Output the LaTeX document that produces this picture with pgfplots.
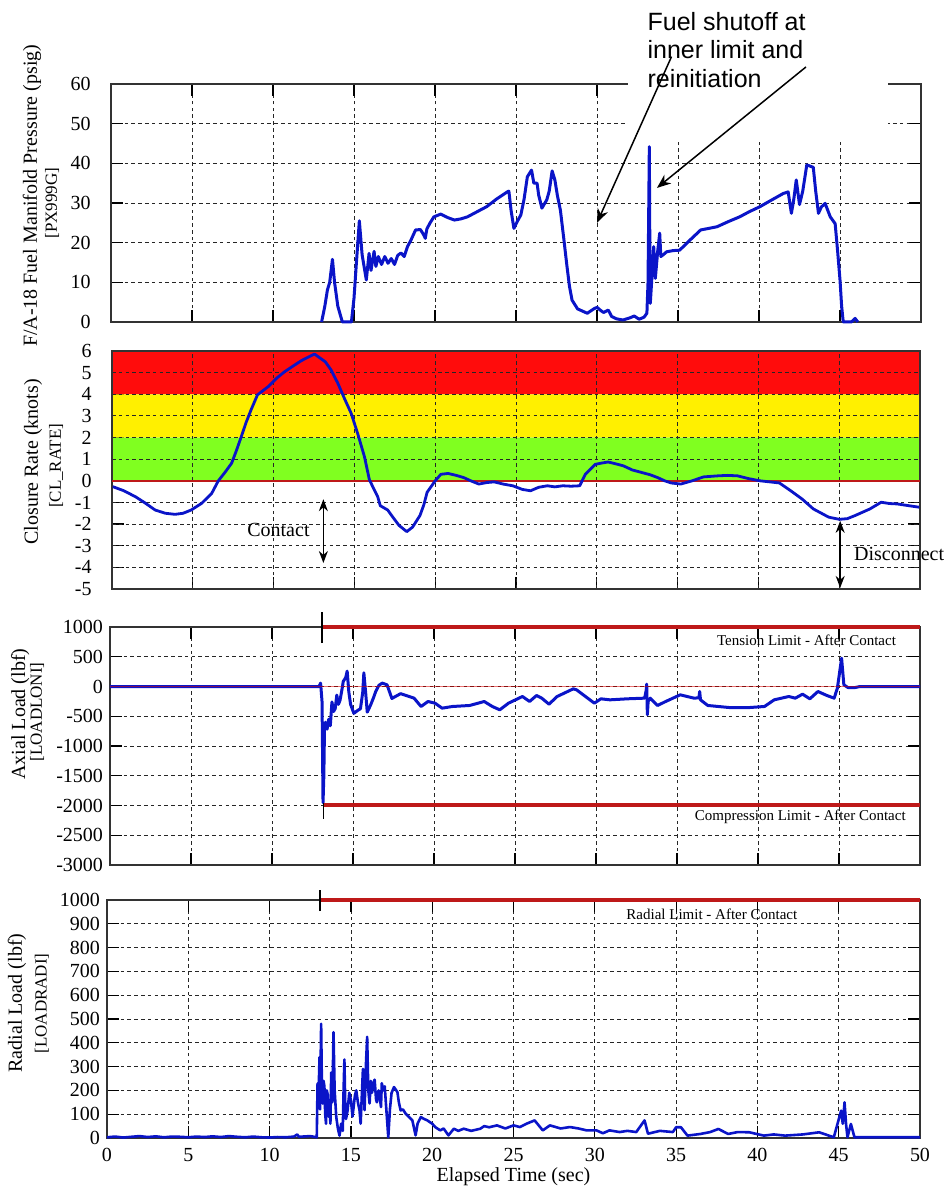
\documentclass[border=0pt]{standalone}
\usepackage{fontspec}
\setmainfont{Liberation Serif}
\newfontfamily\arial{Liberation Sans}
\usepackage{pgfplots}
\pgfplotsset{compat=1.18}
\usetikzlibrary{arrows.meta}
\definecolor{dblue}{RGB}{10,20,200}
\definecolor{lred}{RGB}{190,25,25}
\definecolor{bred}{RGB}{255,12,12}
\definecolor{byel}{RGB}{255,240,0}
\definecolor{bgreen}{RGB}{128,255,32}
\pgfplotsset{
  gridsty/.style={black!85, line width=0.4pt, dash pattern=on 1.8pt off 1.6pt},
  panel/.style={
    scale only axis, height=119pt,
    anchor=south west,
    xmin=0, xmax=50, xtick={0,5,...,50},
    grid=major,
    major grid style={gridsty},
    axis line style={black!80, line width=0.6pt},
    major tick length=6pt,
    tick style={black, line width=0.6pt},
    tick align=inside,
    /pgf/number format/assume math mode=true,
    /pgf/number format/1000 sep={},
    scaled y ticks=false,
    ticklabel style={font=\fontsize{10}{12}\selectfont},
    clip=false,
  },
  every axis plot/.append style={line join=round},
}
\newcommand{\lblA}{\fontsize{10}{12}\selectfont}
\newcommand{\lblB}{\fontsize{8.5}{10}\selectfont}
\begin{document}
\begin{tikzpicture}
\path[use as bounding box] (0,0) rectangle (473.5pt,596.5pt);

% ---------------- Panel 1 ----------------
\begin{axis}[panel, at={(55.5pt,435.5pt)}, width=405pt,
  ymin=0, ymax=60, ytick={0,10,...,60}, xticklabels={},
  yticklabel style={xshift=-6.7pt}]
\addplot[dblue, line width=1.5pt] coordinates {
(13.0,0) (13.2,4) (13.36,8.1) (13.5,10) (13.67,15.8) (13.8,10) (14.0,4) (14.28,0) (14.84,0) (15.0,6) (15.15,15) (15.33,25.5) (15.5,17) (15.76,10.6) (15.93,17.3) (16.05,13) (16.24,17.8) (16.35,14) (16.5,16.5) (16.7,14.5) (16.9,16.5) (17.1,14.8) (17.3,16) (17.5,14.5) (17.7,16.8) (17.9,17.4) (18.1,16.5) (18.3,19) (18.5,20.5) (18.8,23.2) (19.1,23.3) (19.3,22) (19.4,21.1) (19.5,23.5) (19.7,25) (19.93,26.5) (20.35,27.2) (20.8,26.3) (21.2,25.7) (21.6,26) (22.0,26.5) (22.6,27.8) (23.2,29.1) (23.8,31) (24.46,32.8) (24.56,33) (24.7,28) (24.87,23.6) (25.1,25.5) (25.3,27) (25.5,31) (25.7,36.6) (25.96,38.3) (26.1,35) (26.3,35) (26.4,32) (26.6,28.7) (26.9,30.8) (27.05,33) (27.23,38.1) (27.4,35.8) (27.55,32) (27.74,28.2) (27.95,21) (28.15,13.9) (28.3,9) (28.46,5.5) (28.8,3.3) (29.4,2.2) (29.8,3.3) (30.0,3.7) (30.2,3) (30.4,2.4) (30.7,3) (30.9,1.4) (31.2,0.8) (31.6,0.5) (32.0,1) (32.3,1.5) (32.6,0.7) (32.9,1.2) (33.08,2.2) (33.15,10) (33.23,44.2) (33.26,20) (33.29,4.7) (33.4,12) (33.5,19) (33.6,11) (33.75,18) (33.87,22.4) (33.94,16.5) (34.1,17) (34.3,17.7) (34.7,18) (35.1,18.1) (35.7,20.5) (36.4,23.2) (37.4,24) (38.1,25.3) (38.8,26.5) (39.4,27.8) (40.07,29.1) (40.8,30.8) (41.5,32.4) (41.8,32.8) (41.9,30) (42.0,27.4) (42.15,31) (42.3,35.8) (42.5,29.6) (42.7,33) (42.95,39.6) (43.35,39) (43.5,33) (43.67,27.4) (43.85,29) (44.08,29.9) (44.4,26.5) (44.7,24.8) (44.85,18) (45.0,10.6) (45.1,4) (45.2,0) (45.7,0) (45.93,0.9) (46.1,0)
};
\coordinate (wbA) at (axis cs:31.9,45.3);
\coordinate (wbB) at (axis cs:47.96,63);
\coordinate (txt) at (axis cs:33.1,78.2);
\coordinate (a1s) at (axis cs:34.6,66.9);
\coordinate (a1e) at (axis cs:30.0,25.0);
\coordinate (a2s) at (axis cs:42.9,64.3);
\coordinate (a2e) at (axis cs:33.7,33.8);
\node[rotate=90, font=\lblA] at (axis description cs:-0.0975,0.53) {F/A-18 Fuel Manifold Pressure (psig)};
\node[rotate=90, font=\lblB] at (axis description cs:-0.0728,0.5) {[PX999G]};
\end{axis}
\fill[white] (wbA) rectangle (wbB);
\node[anchor=north west, inner sep=0pt, align=left, font=\arial\fontsize{12.5}{14.3}\selectfont] at (txt) {Fuel shutoff at\\inner limit and\\reinitiation};
\draw[line width=0.75pt, -{Stealth[length=7pt,width=5.5pt]}] (a1s) -- (a1e);
\draw[line width=0.75pt, -{Stealth[length=7pt,width=5.5pt]}] (a2s) -- (a2e);

% ---------------- Panel 2 ----------------
\begin{axis}[panel, at={(56pt,302pt)}, width=404pt, grid=none,
  ymin=-5, ymax=6, ytick={-5,-4,...,6}, xticklabels={},
  yticklabel style={xshift=-6.7pt}]
\addplot[draw=none, fill=bred] coordinates {(0,4) (50,4) (50,6) (0,6) (0,4)};
\addplot[draw=none, fill=byel] coordinates {(0,2) (50,2) (50,4) (0,4) (0,2)};
\addplot[draw=none, fill=bgreen] coordinates {(0,0) (50,0) (50,2) (0,2) (0,0)};
\pgfplotsinvokeforeach{5,10,15,20,25,30,35,40,45}{\addplot[gridsty] coordinates {(#1,-5) (#1,6)};}
\pgfplotsinvokeforeach{-4,-3,-2,-1,1,2,3,4,5}{\addplot[gridsty] coordinates {(0,#1) (50,#1)};}
\addplot[black!80, line width=0.6pt] coordinates {(0,-5) (50,-5) (50,6) (0,6) (0,-5)};
\addplot[lred, line width=0.9pt] coordinates {(0,0) (50,0)};
\addplot[dblue, line width=1.4pt] coordinates {
(0.05,-0.27) (0.7,-0.45) (1.44,-0.73) (2.0,-1.0) (2.67,-1.35) (3.3,-1.5) (3.9,-1.55) (4.4,-1.5) (4.9,-1.35) (5.55,-1.04) (6.17,-0.58) (6.58,0.0) (7.0,0.4) (7.4,0.81) (7.7,1.4) (8.0,2.04) (8.3,2.7) (8.6,3.27) (9.0,3.97) (9.66,4.35) (10.2,4.75) (10.68,5.04) (11.2,5.3) (11.71,5.55) (12.1,5.7) (12.53,5.86) (12.9,5.66) (13.2,5.5) (13.56,5.12) (13.98,4.5) (14.38,3.81) (14.8,3.12) (15.2,2.19) (15.62,1.12) (15.93,0.04) (16.44,-0.73) (16.6,-1.15) (17.06,-1.35) (17.3,-1.6) (17.76,-2.06) (18.24,-2.35) (18.6,-2.14) (19.06,-1.6) (19.3,-1.1) (19.5,-0.53) (20.0,0) (20.35,0.3) (20.8,0.34) (21.3,0.25) (21.76,0.15) (22.2,0) (22.7,-0.15) (23.2,-0.08) (23.65,-0.05) (24.2,-0.15) (24.8,-0.23) (25.4,-0.4) (25.9,-0.46) (26.4,-0.3) (26.94,-0.23) (27.4,-0.28) (27.9,-0.23) (28.4,-0.25) (28.94,-0.23) (29.3,0.31) (29.9,0.76) (30.3,0.82) (30.7,0.87) (31.2,0.78) (31.65,0.69) (32.2,0.5) (32.8,0.38) (33.3,0.28) (33.76,0.15) (34.2,0.0) (34.6,-0.1) (35.2,-0.15) (35.9,0) (36.6,0.18) (37.5,0.23) (38.1,0.25) (38.7,0.23) (39.4,0.1) (40.1,0) (40.7,-0.05) (41.3,-0.1) (42.0,-0.46) (42.7,-0.84) (43.4,-1.3) (44.35,-1.68) (45.0,-1.78) (45.5,-1.75) (46.0,-1.6) (46.9,-1.3) (47.6,-0.99) (48.1,-1.05) (48.6,-1.07) (49.3,-1.15) (49.95,-1.22)
};
\node[font=\lblA] at (axis cs:10.3,-2.29) {Contact};
\draw[line width=0.7pt, {Stealth[length=6pt,width=4.5pt]}-{Stealth[length=6pt,width=4.5pt]}] (axis cs:13.08,-0.85) -- (axis cs:13.08,-3.8);
\node[font=\lblA, anchor=west, inner sep=0pt] at (axis cs:45.9,-3.4) {Disconnect};
\draw[line width=0.7pt, {Stealth[length=6pt,width=4.5pt]}-{Stealth[length=6pt,width=4.5pt]}] (axis cs:45.06,-1.85) -- (axis cs:45.06,-4.95);
\node[rotate=90, font=\lblA] at (axis description cs:-0.0978,0.534) {Closure Rate (knots)};
\node[rotate=90, font=\lblB] at (axis description cs:-0.0693,0.517) {[CL\_RATE]};
\end{axis}

% ---------------- Panel 3 ----------------
\begin{axis}[panel, at={(55pt,164pt)}, width=405pt,
  ymin=-3000, ymax=1000, ytick={-3000,-2500,...,1000}, xticklabels={}]
\addplot[dblue, line width=1.5pt] coordinates {
(0,0) (12.9,0) (13.0,57) (13.09,-259) (13.15,-1950) (13.2,-1500) (13.24,-718) (13.3,-600) (13.4,-718) (13.5,-550) (13.6,-660) (13.7,-259) (13.8,-420) (13.9,-374) (14.0,-144) (14.1,-300) (14.2,-230) (14.3,-80) (14.4,86) (14.55,150) (14.64,259) (14.74,-86) (14.85,-300) (14.95,-374) (15.05,-450) (15.15,-431) (15.3,-400) (15.46,-374) (15.6,-100) (15.67,230) (15.78,-100) (15.88,-431) (16.08,-316) (16.25,-200) (16.4,-86) (16.6,20) (16.8,57) (17.1,29) (17.4,-201) (17.94,-120) (18.77,-196) (19.2,-336) (19.63,-252) (20.06,-280) (20.5,-364) (21.14,-336) (22.2,-319) (23.1,-252) (23.6,-336) (24.06,-392) (24.6,-280) (25.46,-168) (25.9,-252) (26.33,-151) (26.65,-196) (27.1,-297) (27.6,-168) (28.6,-39) (28.8,-56) (29.35,-168) (29.9,-280) (30.3,-207) (30.86,-224) (31.94,-207) (33.0,-196) (33.1,-60) (33.13,40) (33.17,-476) (33.22,-250) (33.35,-196) (33.8,-319) (34.3,-252) (35.2,-140) (36.05,-196) (36.35,-190) (36.4,-84) (36.45,-224) (36.9,-319) (38.2,-353) (39.5,-353) (40.4,-336) (41.0,-224) (41.9,-168) (42.3,-196) (42.75,-129) (43.2,-207) (43.7,-84) (44.25,-151) (44.7,-196) (44.9,-28) (45.16,476) (45.3,28) (45.55,-17) (46.0,-17) (46.3,0) (50,0)
};
\addplot[red!85!black, opacity=0.55, line width=0.7pt] coordinates {(0,0) (50,0)};
\addplot[lred, line width=2pt] coordinates {(13.1,1000) (50,1000)};
\addplot[lred, line width=2pt] coordinates {(13.2,-2000) (50,-2000)};
\draw[black, line width=0.6pt] (axis cs:13.09,730) -- (axis cs:13.09,1250);
\draw[black, line width=0.5pt] (axis cs:13.2,-1950) -- (axis cs:13.2,-2220);
\node[anchor=east, font=\fontsize{7.5}{9}\selectfont] at (axis cs:48.95,776) {Tension Limit - After Contact};
\node[anchor=east, font=\fontsize{7.5}{9}\selectfont] at (axis cs:49.55,-2196) {Compression Limit - After Contact};
\node[rotate=90, font=\lblA] at (axis description cs:-0.111,0.634) {Axial Load (lbf)};
\node[rotate=90, font=\lblB] at (axis description cs:-0.090,0.643) {[LOADLONI]};
\end{axis}

% ---------------- Panel 4 ----------------
\begin{axis}[panel, at={(53.5pt,27.5pt)}, width=406.5pt,
  ymin=0, ymax=1000, ytick={0,100,...,1000},
  xticklabel style={yshift=-1.5pt},
  xlabel={Elapsed Time (sec)},
  xlabel style={at={(axis description cs:0.5,0)}, anchor=center, yshift=-19.5pt, font=\lblA}]
\addplot[dblue, line width=1.3pt] coordinates {
(0,3) (0.5,6) (1,2) (1.5,5) (2,8) (2.5,4) (3,7) (3.5,3) (4,6) (4.5,5) (5,3) (5.5,6) (6,4) (6.5,7) (7,4) (7.5,8) (8,5) (8.5,3) (9,6) (9.5,3) (10,2) (10.5,4) (11,3) (11.5,6) (11.7,15) (11.8,5) (12.5,8) (12.9,3) (12.95,230) (13.0,150) (13.04,260) (13.07,340) (13.1,120) (13.17,480) (13.22,200) (13.27,145) (13.32,240) (13.37,217) (13.42,100) (13.47,60) (13.52,200) (13.58,180) (13.63,90) (13.68,145) (13.74,60) (13.79,275) (13.86,150) (13.93,445) (14.0,200) (14.1,88) (14.2,40) (14.3,10) (14.4,60) (14.5,30) (14.55,200) (14.6,330) (14.65,150) (14.7,80) (14.8,117) (14.9,190) (15.0,160) (15.1,90) (15.15,120) (15.25,180) (15.33,200) (15.43,150) (15.53,117) (15.6,60) (15.74,290) (15.8,200) (15.84,117) (15.92,300) (16.0,425) (16.07,200) (16.15,145) (16.22,240) (16.3,190) (16.38,230) (16.46,245) (16.55,160) (16.6,150) (16.7,200) (16.77,174) (16.85,130) (16.9,230) (17.0,200) (17.08,217) (17.2,100) (17.3,3) (17.4,120) (17.5,189) (17.65,214) (17.86,193) (17.95,150) (18.06,116) (18.2,120) (18.37,102) (18.55,90) (18.78,74) (18.98,11) (19.1,60) (19.3,88) (19.5,80) (19.7,74) (20,60) (20.2,45) (20.5,32) (20.7,40) (21.0,11) (21.33,39) (21.6,30) (21.94,39) (22.4,30) (22.96,39) (23.2,50) (23.5,45) (23.98,53) (24.5,40) (25,53) (25.4,46) (25.8,60) (26.3,74) (26.8,32) (27.24,53) (27.9,40) (28.47,46) (29.0,40) (29.5,32) (30.1,32) (30.5,20) (30.9,32) (31.53,25) (32.0,30) (32.55,25) (33.06,74) (33.27,18) (34.0,30) (34.8,25) (35.0,45) (35.3,45) (35.7,10) (36.5,17) (37.1,25) (37.6,38) (38.2,17) (38.8,25) (39.5,24) (40.4,10) (41.0,15) (41.7,10) (42.8,15) (43.8,24) (44.7,3) (45.15,115) (45.25,60) (45.36,150) (45.45,60) (45.54,3) (45.75,59) (45.97,3) (48.1,3) (50,3)
};
\addplot[lred, line width=2pt] coordinates {(13.1,1000) (50,1000)};
\draw[black, line width=0.6pt] (axis cs:13.1,953) -- (axis cs:13.1,1042);
\node[font=\fontsize{7.5}{9}\selectfont] at (axis cs:37.2,941) {Radial Limit - After Contact};
\node[rotate=90, font=\lblA] at (axis description cs:-0.1107,0.567) {Radial Load (lbf)};
\node[rotate=90, font=\lblB] at (axis description cs:-0.080,0.565) {[LOADRADI]};
\end{axis}
\end{tikzpicture}
\end{document}
